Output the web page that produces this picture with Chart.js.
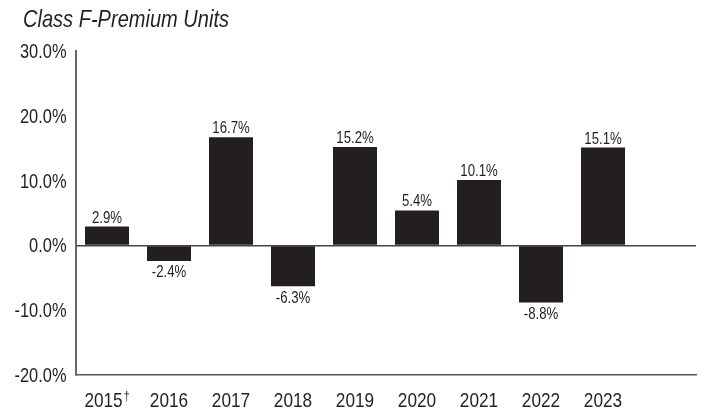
<!DOCTYPE html>
<html>
<head>
<meta charset="utf-8">
<script src="https://cdn.jsdelivr.net/npm/chart.js@4"></script>
<style>
  html, body { margin: 0; padding: 0; background: #fff; }
  #wrap { width: 707px; height: 411px; }
</style>
</head>
<body>
<div id="wrap"><canvas id="chart" width="707" height="411"></canvas></div>
<script>
const chartTitle = 'Class F-Premium Units';
const years = ['2015\u2020', '2016', '2017', '2018', '2019', '2020', '2021', '2022', '2023'];
const returns = [2.9, -2.4, 16.7, -6.3, 15.2, 5.4, 10.1, -8.8, 15.1];
const yTicks = [-20, -10, 0, 10, 20, 30];

const FONT = "'Liberation Sans', Arial, sans-serif";
const INK = '#231f20';
const SQUEEZE = 0.82; // the original uses a narrow face, no narrow font here so squash it

// one empty slot after 2023, like the original
const labels = [...years, ''];
const pct = v => v.toFixed(1) + '%';

function narrowText(ctx, text, x, y, size, align, style, squeeze) {
    const sx = squeeze || SQUEEZE;
    ctx.save();
    ctx.font = (style ? style + ' ' : '') + size + 'px ' + FONT;
    ctx.translate(x, y);
    ctx.scale(sx, 1);
    ctx.textAlign = align;
    ctx.textBaseline = 'alphabetic';
    ctx.fillText(text, 0, 0);
    ctx.restore();
}

function textWidth(ctx, text, size, squeeze) {
    ctx.save();
    ctx.font = size + 'px ' + FONT;
    const w = ctx.measureText(text).width * (squeeze || SQUEEZE);
    ctx.restore();
    return w;
}

// axis labels, value labels and the title, all drawn in the squashed face
const narrowLabels = {
    id: 'narrowLabels',
    afterDatasetsDraw(chart) {
        const ctx = chart.ctx;
        const xs = chart.scales.x, ys = chart.scales.y;
        ctx.save();
        ctx.fillStyle = INK;

        // y ticks
        yTicks.forEach(v => {
            narrowText(ctx, pct(v), 66.5, ys.getPixelForValue(v) + 7, 20, 'right');
        });

        // x ticks (dagger raised and smaller)
        years.forEach((lab, i) => {
            const cx = xs.getPixelForValue(i);
            const parts = lab.split('\u2020');
            const base = parts[0];
            const hasMark = parts.length > 1;
            const wBase = textWidth(ctx, base, 21);
            const wMark = hasMark ? textWidth(ctx, '\u2020', 13) + 1 : 0;
            const left = cx - (wBase + wMark) / 2;
            narrowText(ctx, base, left, 407, 21, 'left');
            if (hasMark) narrowText(ctx, '\u2020', left + wBase + 1, 400, 13, 'left');
        });

        // value labels
        const meta = chart.getDatasetMeta(0);
        meta.data.forEach((bar, i) => {
            const v = returns[i];
            if (v === undefined) return;
            if (v >= 0) narrowText(ctx, pct(v), bar.x, bar.y - 4, 16.5, 'center', '', 0.8);
            else narrowText(ctx, pct(v), bar.x, bar.y + 16.5, 16.5, 'center', '', 0.8);
        });

        // title
        narrowText(ctx, chartTitle, 23, 27, 24, 'left', 'italic', 0.835);
        ctx.restore();
    }
};

new Chart(document.getElementById('chart'), {
    type: 'bar',
    data: {
        labels: labels,
        datasets: [{
            data: returns,
            backgroundColor: INK,
            borderWidth: 0,
            categoryPercentage: 1,
            barPercentage: 0.71
        }]
    },
    options: {
        responsive: false,
        animation: false,
        layout: {
            padding: { top: 51, right: 11, bottom: 0, left: 0 }
        },
        plugins: {
            legend: { display: false },
            tooltip: { enabled: false }
        },
        scales: {
            x: {
                grid: { color: 'transparent', drawTicks: false },
                border: { color: '#555', width: 1.5 },
                ticks: { display: false },
                afterFit(scale) { scale.height = 36; }
            },
            y: {
                min: yTicks[0],
                max: yTicks[yTicks.length - 1],
                afterBuildTicks(scale) {
                    scale.ticks = yTicks.map(v => ({ value: v }));
                },
                grid: {
                    drawTicks: false,
                    lineWidth: 1.5,
                    color: c => (c.tick && c.tick.value === 0) ? '#444' : 'transparent'
                },
                border: { color: '#666', width: 2 },
                ticks: { display: false },
                afterFit(scale) { scale.width = 76; }
            }
        }
    },
    plugins: [narrowLabels]
});
</script>
</body>
</html>
